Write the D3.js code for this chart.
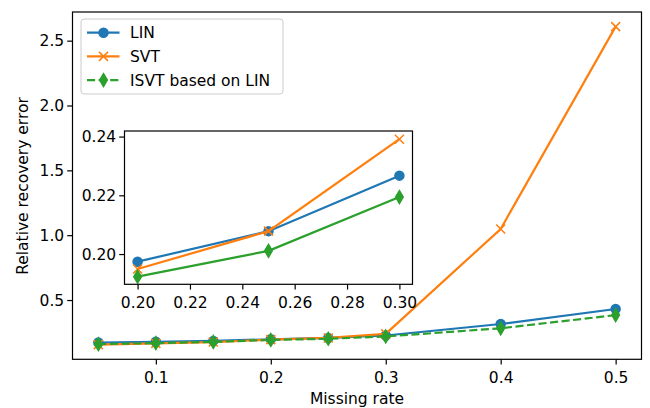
<!DOCTYPE html>
<html>
<head>
<meta charset="utf-8">
<script src="https://cdn.jsdelivr.net/npm/d3@7"></script>
<style>
  html, body { margin: 0; padding: 0; background: #fff; }
  svg { display: block; font-family: "DejaVu Sans", sans-serif; }
</style>
</head>
<body>
<svg id="chart" width="650" height="408"></svg>
<script>
// Missing rates and the recovery error of each method
const missingRate = [0.05, 0.1, 0.15, 0.2, 0.25, 0.3, 0.4, 0.5];
const linError  = [0.172, 0.178, 0.185, 0.1974, 0.2078, 0.2267, 0.315, 0.431];
const svtError  = [0.156, 0.166, 0.176, 0.1949, 0.2078, 0.2391, 1.048, 2.608];
const isvtError = [0.160, 0.168, 0.177, 0.1923, 0.2011, 0.2194, 0.282, 0.384];

const seriesNames = ["LIN", "SVT", "ISVT based on LIN"];

// Tick labels
const xTicks = [0.1, 0.2, 0.3, 0.4, 0.5];
const yTicks = [0.5, 1.0, 1.5, 2.0, 2.5];
const insetXTicks = [0.20, 0.22, 0.24, 0.26, 0.28, 0.30];
const insetYTicks = [0.20, 0.22, 0.24];
// Zoomed range shown in the inset
const insetRange = [0.2, 0.3];

const colors = ["#1f77b4", "#ff7f0e", "#2ca02c"];
const markers = ["circle", "x", "thinDiamond"];
const FONT = 15.5;
const LW = 2.2;
const MS = 9.0;
const MEW = 1.5;
const TICK = 5.3;

const series = seriesNames.map((name, i) => ({
  name,
  color: colors[i],
  marker: markers[i],
  dashed: i === 2,
  values: missingRate.map((x, j) => ({ x, y: [linError, svtError, isvtError][i][j] }))
}));

const svg = d3.select("#chart");

function drawMarker(g, type, color) {
  if (type === "circle") {
    g.append("circle").attr("r", MS / 2)
      .attr("fill", color).attr("stroke", color).attr("stroke-width", MEW);
  } else if (type === "x") {
    const h = MS / 2;
    g.append("path").attr("d", `M${-h},${-h}L${h},${h}M${-h},${h}L${h},${-h}`)
      .attr("fill", "none").attr("stroke", color).attr("stroke-width", MEW);
  } else {
    const hy = MS * Math.SQRT2 / 2, hx = hy * 0.6;
    g.append("path").attr("d", `M0,${-hy}L${hx},0L0,${hy}L${-hx},0Z`)
      .attr("fill", color).attr("stroke", color).attr("stroke-width", MEW);
  }
}

function drawPanel(root, box, xDomain, yDomain, xt, yt, xFmt, yFmt, data, solidOnly) {
  const x = d3.scaleLinear().domain(xDomain).range([box.left, box.right]);
  const y = d3.scaleLinear().domain(yDomain).range([box.bottom, box.top]);

  root.append("rect")
    .attr("x", box.left).attr("y", box.top)
    .attr("width", box.right - box.left).attr("height", box.bottom - box.top)
    .attr("fill", "#fff");

  const clipId = "clip" + Math.round(box.left);
  root.append("clipPath").attr("id", clipId).append("rect")
    .attr("x", box.left).attr("y", box.top)
    .attr("width", box.right - box.left).attr("height", box.bottom - box.top);

  const plot = root.append("g").attr("clip-path", `url(#${clipId})`);
  const line = d3.line().x(d => x(d.x)).y(d => y(d.y));

  data.forEach(s => {
    plot.append("path").datum(s.values)
      .attr("d", line)
      .attr("fill", "none")
      .attr("stroke", s.color)
      .attr("stroke-width", LW)
      .attr("stroke-dasharray", (s.dashed && !solidOnly) ? "8.1,3.5" : null);
    s.values.forEach(d => {
      const g = plot.append("g").attr("transform", `translate(${x(d.x)},${y(d.y)})`);
      drawMarker(g, s.marker, s.color);
    });
  });

  const xAxis = root.append("g")
    .attr("transform", `translate(0,${box.bottom})`)
    .call(d3.axisBottom(x).tickValues(xt).tickFormat(xFmt).tickSize(TICK).tickPadding(7.3));
  const yAxis = root.append("g")
    .attr("transform", `translate(${box.left},0)`)
    .call(d3.axisLeft(y).tickValues(yt).tickFormat(yFmt).tickSize(TICK).tickPadding(3));
  [xAxis, yAxis].forEach(a => {
    a.select(".domain").remove();
    a.selectAll("line").attr("stroke", "#000").attr("stroke-width", 1.2);
    a.selectAll("text").attr("font-size", FONT).attr("fill", "#000")
      .attr("font-family", "DejaVu Sans, sans-serif");
  });

  root.append("rect")
    .attr("x", box.left).attr("y", box.top)
    .attr("width", box.right - box.left).attr("height", box.bottom - box.top)
    .attr("fill", "none").attr("stroke", "#000").attr("stroke-width", 1.2);
}

// Main axes
const main = svg.append("g");
drawPanel(main, { left: 72.5, right: 641.5, top: 12, bottom: 359.3 },
  [0.0275, 0.5225], [0.043, 2.721], xTicks, yTicks,
  d3.format(".1f"), d3.format(".1f"), series, false);

// Axis titles
svg.append("text")
  .attr("x", 357).attr("y", 404)
  .attr("text-anchor", "middle").attr("font-size", FONT)
  .text("Missing rate");
svg.append("text")
  .attr("transform", "translate(27.5,186) rotate(-90)")
  .attr("text-anchor", "middle").attr("font-size", FONT)
  .text("Relative recovery error");

// Legend
const legend = svg.append("g");
legend.append("rect")
  .attr("x", 81).attr("y", 19).attr("width", 202).attr("height", 75)
  .attr("rx", 3).attr("fill", "#fff").attr("fill-opacity", 0.8)
  .attr("stroke", "#ccc").attr("stroke-width", 1);
series.forEach((s, i) => {
  const cy = 32.7 + i * 23.7;
  legend.append("line")
    .attr("x1", 87).attr("x2", 119.5).attr("y1", cy).attr("y2", cy)
    .attr("stroke", s.color).attr("stroke-width", LW)
    .attr("stroke-dasharray", s.dashed ? "8.1,3.5" : null);
  drawMarker(legend.append("g").attr("transform", `translate(103.5,${cy})`), s.marker, s.color);
  legend.append("text")
    .attr("x", 130).attr("y", cy).attr("dy", "0.36em")
    .attr("font-size", FONT).text(s.name);
});

// Inset: close-up of the 0.2 to 0.3 range
const insetSeries = series.map(s => ({
  ...s,
  values: s.values.filter(d => d.x >= insetRange[0] - 1e-9 && d.x <= insetRange[1] + 1e-9)
}));
const inset = svg.append("g");
drawPanel(inset, { left: 124.5, right: 412.5, top: 131, bottom: 284.3 },
  [0.195, 0.305], [0.1897, 0.2419], insetXTicks, insetYTicks,
  d3.format(".2f"), d3.format(".2f"), insetSeries, true);
</script>
</body>
</html>
